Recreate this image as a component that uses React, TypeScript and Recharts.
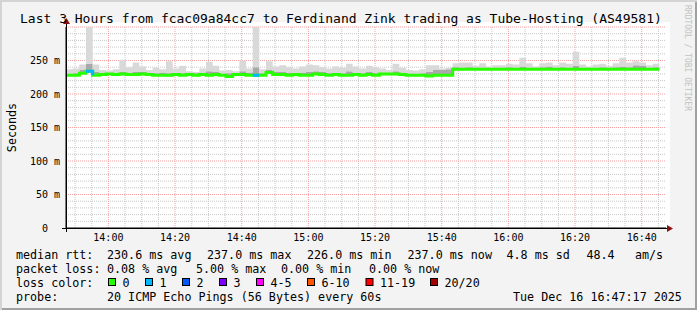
import React from 'react'
import { ComposedChart, Area, Line, XAxis, YAxis, CartesianGrid } from 'recharts'

// 3 hour window ending 16:47:17, values consolidated to 2 minute steps
const START = 13 * 60 + 47 + 17 / 60
const END = START + 180
const STEP = 2

// median rtt per step (ms)
const median = [
  228, 228, 231, 234, 228, 229, 230, 229, 230, 229,
  229, 230, 229, 228, 228, 228, 229, 228, 229, 228,
  229, 228, 229, 228, 226, 229, 229, 228, 228, 228,
  232, 229, 229, 228, 229, 228, 228, 230, 229, 228,
  229, 228, 228, 229, 228, 229, 228, 230, 230, 230,
  229, 228, 228, 228, 227, 228, 228, 228, 237, 237,
  237, 237, 237, 237, 237, 237, 237, 237, 237, 237,
  237, 237, 237, 237, 237, 237, 237, 237, 237, 237,
  237, 237, 237, 237, 237, 237, 237, 237, 237, 237,
]

// top of the dense smoke band (ms)
const smokeDense = [
  230, 231, 236, 245, 233, 231, 232, 231, 233, 232,
  233, 233, 231, 231, 232, 231, 231, 231, 230, 231,
  232, 234, 233, 230, 231, 231, 234, 232, 240, 231,
  236, 233, 233, 232, 231, 232, 233, 234, 233, 231,
  232, 231, 234, 232, 231, 233, 231, 232, 232, 234,
  232, 230, 230, 231, 233, 236, 236, 237, 240, 239,
  240, 239, 239, 238, 239, 239, 240, 239, 241, 239,
  238, 240, 241, 239, 240, 239, 242, 239, 238, 239,
  240, 239, 240, 241, 240, 243, 242, 239, 240, 240,
]

// slowest ping per step (ms), clipped at the graph top
const smokeMax = [
  237, 238, 244, 300, 244, 236, 235, 237, 251, 240,
  247, 241, 236, 239, 237, 249, 238, 242, 234, 233,
  238, 248, 242, 235, 236, 234, 250, 238, 300, 237,
  249, 241, 243, 240, 238, 241, 244, 243, 240, 238,
  241, 239, 245, 241, 238, 242, 240, 238, 236, 245,
  239, 236, 235, 237, 243, 243, 238, 239, 246, 247,
  247, 242, 246, 241, 243, 243, 245, 244, 254, 246,
  241, 246, 247, 243, 247, 245, 263, 244, 241, 244,
  245, 242, 246, 254, 247, 249, 247, 243, 245, 245,
]

// lost pings (of 20) per step
const lost = [
  0, 0, 0, 1, 0, 0, 0, 0, 0, 0,
  0, 0, 0, 0, 0, 0, 0, 0, 0, 0,
  0, 0, 0, 0, 0, 0, 0, 0, 1, 0,
  0, 0, 0, 0, 0, 0, 0, 0, 0, 0,
  0, 0, 0, 0, 0, 0, 0, 0, 0, 0,
  0, 0, 0, 0, 0, 0, 0, 0, 0, 0,
  0, 0, 0, 0, 0, 0, 0, 0, 0, 0,
  0, 0, 0, 0, 0, 0, 0, 0, 0, 0,
  0, 0, 0, 0, 0, 0, 0, 0, 0, 0,
]

const lossLabels = ['0', '1', '2', '3', '4-5', '6-10', '11-19', '20/20']
const lossColors = ['#26ff00', '#00b8ff', '#0059ff', '#7e00ff', '#ff00ff', '#ff5500', '#ff0000', '#a10000']
const lossUpper = [0, 1, 2, 3, 5, 10, 19, 20]
const lossBoxX = [108.5, 145.5, 182.5, 219.5, 256.5, 307.5, 366, 430.5]

const timeTicks = [840, 860, 880, 900, 920, 940, 960, 980, 1000]
const rttTicks = [0, 50, 100, 150, 200, 250]

const title = 'Last 3 Hours from fcac09a84cc7 to Ferdinand Zink trading as Tube-Hosting (AS49581)'
const rttLine: [number, string][] = [
  [16, 'median rtt:'], [107, '230.6 ms avg'], [207, '237.0 ms max'], [307, '226.0 ms min'],
  [407.5, '237.0 ms now'], [506.5, '4.8 ms sd'], [586.5, '48.4'], [635, 'am/s'],
]
const lossLine: [number, string][] = [
  [16, 'packet loss:'], [107, '0.08 % avg'], [196, '5.00 % max'], [281, '0.00 % min'], [369, '0.00 % now'],
]
const probeLine: [number, string][] = [
  [16, 'probe:'], [107, '20 ICMP Echo Pings (56 Bytes) every 60s'], [513, 'Tue Dec 16 16:47:17 2025'],
]

const MONO = "'DejaVu Sans Mono', monospace"

const lossClass = (n: number) => lossUpper.findIndex(u => n <= u)
const classes = lost.map(lossClass)
const usedClasses = lossColors.map((_, k) => k).filter(k => classes.includes(k))

const rows = median.map((m, i) => {
  const row: Record<string, number | null> = {
    t: START + i * STEP,
    base: m,
    dense: smokeDense[i] - m,
    light: smokeMax[i] - smokeDense[i],
  }
  usedClasses.forEach(k => {
    row['m' + k] = classes[i] === k || (i > 0 && classes[i - 1] === k) ? m : null
  })
  return row
})

const minorX: number[] = []
for (let v = 830; v <= 1005; v += 5) if (v % 20 !== 0) minorX.push(v)
const minorY: number[] = []
for (let v = 10; v <= 300; v += 10) if (v % 50 !== 0) minorY.push(v)
const majorY = [50, 100, 150, 200, 250, 300]

const fmtTime = (v: number) => `${Math.floor(v / 60)}:${String(v % 60).padStart(2, '0')}`

function RttTick(props: any) {
  const { x, y, payload } = props
  const v = payload.value
  return (
    <text x={v === 0 ? x - 12 : x} y={y} dy="0.36em" textAnchor="end" fontSize={10} fontFamily={MONO} fill="#000">
      {v === 0 ? '0' : `${v} m`}
    </text>
  )
}

export default function App() {
  return (
    <div style={{
      position: 'absolute', left: 0, top: 0, width: 697, height: 310,
      background: '#f3f3f3', boxShadow: 'inset 2px 2px 0 #d4d4d4, inset -2px -2px 0 #a0a0a0',
      overflow: 'hidden'
    }}>
      {/* canvas */}
      <div style={{ position: 'absolute', left: 66, top: 22, width: 604, height: 206, background: '#fff' }} />

      <div style={{ position: 'absolute', left: 0, top: 0 }}>
        <ComposedChart width={697} height={310} data={rows} margin={{ top: 27, right: 31, bottom: 62, left: 6 }}>
          <CartesianGrid horizontalValues={minorY} verticalValues={minorX} stroke="#c8c8c8" strokeDasharray="1 1" />
          <CartesianGrid horizontalValues={majorY} verticalValues={timeTicks} stroke="#f4a0a0" strokeDasharray="1 1" />
          <XAxis
            dataKey="t" type="number" domain={[START, END]} allowDataOverflow
            ticks={timeTicks} interval={0} tickFormatter={fmtTime}
            height={20} tickSize={0} tickMargin={6} tickLine={false}
            axisLine={{ stroke: '#000' }}
            tick={{ fontSize: 10, fill: '#000', fontFamily: MONO }}
          />
          <YAxis
            type="number" domain={[0, 300]} allowDataOverflow
            ticks={rttTicks} interval={0} width={60}
            tickSize={4} tickMargin={2} tickLine={false}
            axisLine={{ stroke: '#000' }} tick={<RttTick />}
          />
          <Area dataKey="base" stackId="smoke" type="stepAfter" stroke="none" fill="none" isAnimationActive={false} activeDot={false} />
          <Area dataKey="dense" stackId="smoke" type="stepAfter" stroke="none" fill="#a9a9a9" fillOpacity={1} isAnimationActive={false} activeDot={false} />
          <Area dataKey="light" stackId="smoke" type="stepAfter" stroke="none" fill="#d9d9d9" fillOpacity={1} isAnimationActive={false} activeDot={false} />
          {usedClasses.map(k => (
            <Line key={k} dataKey={'m' + k} type="stepAfter" stroke={lossColors[k]} strokeWidth={3}
              dot={false} activeDot={false} connectNulls={false} isAnimationActive={false} />
          ))}
        </ComposedChart>
      </div>

      <svg width={697} height={310} style={{ position: 'absolute', left: 0, top: 0, pointerEvents: 'none' }} fontFamily={MONO}>
        {/* axis extensions and arrows */}
        <line x1={62} y1={228.5} x2={667} y2={228.5} stroke="#000" />
        <line x1={66.5} y1={23} x2={66.5} y2={232} stroke="#000" />
        <polygon points="63,24 70,24 66.5,18" fill="#8b1010" />
        <polygon points="667,225 667,232 673,228.5" fill="#8b1010" />

        <text x={20} y={23} fontSize={13} fill="#000" xmlSpace="preserve">{title}</text>
        <text transform="translate(15.5,127.5) rotate(-90)" textAnchor="middle" fontSize={11.7} fill="#000">Seconds</text>
        <text transform="translate(684.5,5) rotate(90)" fontSize={8} fill="#c2c2c2">RRDTOOL / TOBI OETIKER</text>

        {rttLine.map(([x, s], i) => <text key={'r' + i} x={x} y={258.5} fontSize={11.7} fill="#000" xmlSpace="preserve">{s}</text>)}
        {lossLine.map(([x, s], i) => <text key={'l' + i} x={x} y={272.5} fontSize={11.7} fill="#000" xmlSpace="preserve">{s}</text>)}
        <text x={16} y={286.5} fontSize={11.7} fill="#000">loss color:</text>
        {lossLabels.map((s, k) => (
          <g key={'c' + k}>
            <rect x={lossBoxX[k]} y={278.5} width={7} height={7} fill={lossColors[k]} stroke="#000" />
            <text x={lossBoxX[k] + 14} y={286.5} fontSize={11.7} fill="#000">{s}</text>
          </g>
        ))}
        {probeLine.map(([x, s], i) => <text key={'p' + i} x={x} y={300.5} fontSize={11.7} fill="#000" xmlSpace="preserve">{s}</text>)}
      </svg>
    </div>
  )
}
